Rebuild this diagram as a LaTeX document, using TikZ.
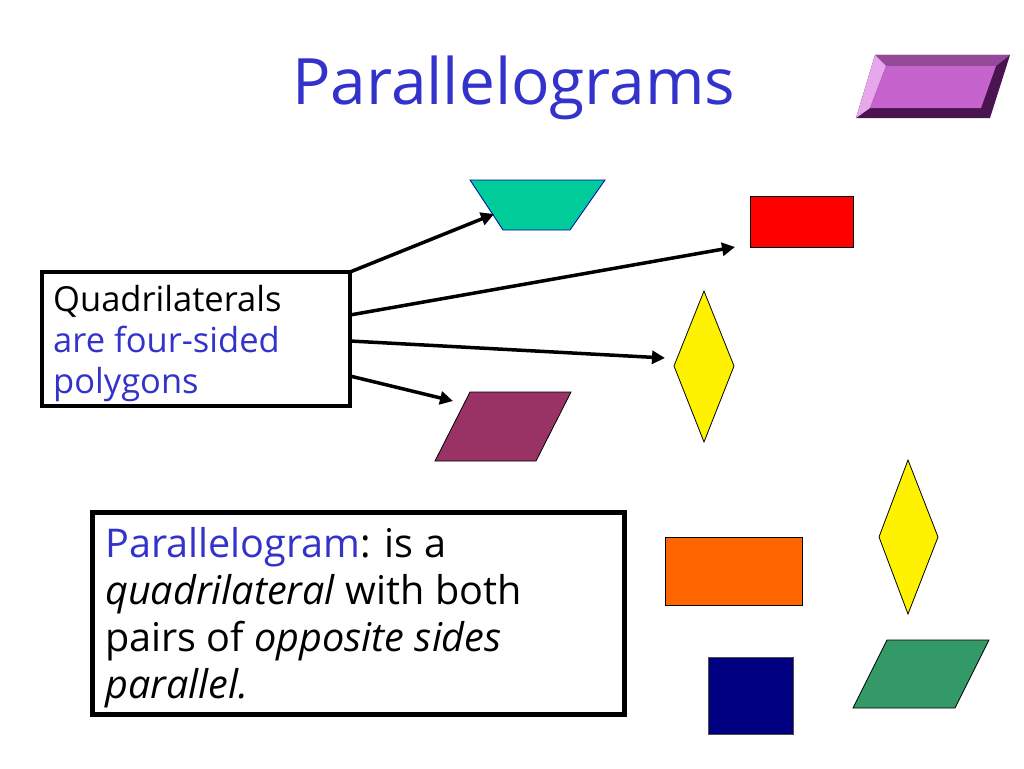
\documentclass[tikz,border=0pt]{standalone}
\usepackage{fontspec}
\setmainfont{Open Sans}
\usetikzlibrary{arrows.meta}
\definecolor{titleblue}{HTML}{3333CC}
\definecolor{teal1}{HTML}{00CC99}
\definecolor{maroon1}{HTML}{993366}
\definecolor{orange1}{HTML}{FF6600}
\definecolor{navy1}{HTML}{000080}
\definecolor{green1}{HTML}{339966}
\definecolor{purp}{HTML}{C663CC}
\definecolor{purpdark}{HTML}{4A1450}
\definecolor{purplight}{HTML}{E6A8EA}
\tikzset{
  shapeline/.style={draw=black, line width=0.8pt, line join=miter},
  conn/.style={line width=3.5pt, -{Triangle[length=13pt,width=13pt]}},
}
\begin{document}
\begin{tikzpicture}[x=1pt,y=-1pt]
\useasboundingbox (0,0) rectangle (1024,768);
% title
\node[anchor=base west, inner sep=0pt, text=titleblue, font=\fontsize{64}{70}\selectfont] (title) at (292,104) {Parallelograms};
% purple bevel parallelogram
\fill[purpdark] (856,118) -- (875,55) -- (1010,55) -- (990,118) -- cycle;
\fill[purp!75!black] (875,55) -- (1010,55) -- (996,66) -- (886,66) -- cycle;
\fill[purplight] (856,118) -- (875,55) -- (886,66) -- (870,108) -- cycle;
\fill[purp] (870,108) -- (886,66) -- (996,66) -- (981,108) -- cycle;
% teal trapezoid
\draw[fill=teal1, draw=blue!70!black, line width=0.8pt] (470,180) -- (605,180) -- (570,230) -- (503,230) -- cycle;
\coordinate (tealtip) at (494,214);
% red rectangle
\draw[shapeline, fill=red] (750,196) rectangle (853,247);
\coordinate (redtip) at (735,247);
% yellow diamond 1
\draw[shapeline, fill=yellow] (704,291) -- (734,366) -- (704,442) -- (674,366) -- cycle;
\coordinate (yeltip) at (665,358);
% maroon parallelogram
\draw[shapeline, fill=maroon1] (435,461) -- (470,392) -- (571,392) -- (536,461) -- cycle;
\coordinate (martip) at (453,401);
% quadrilaterals box
\draw[line width=4pt, fill=white] (42,272) rectangle (350,406);
\node[anchor=base west, inner sep=0pt, align=left, font=\fontsize{34.5}{41}\selectfont] (quad) at (53,393)
  {Quadrilaterals\\\textcolor{titleblue}{are four-sided}\\\textcolor{titleblue}{polygons}};
\coordinate (s1) at (350,272);
\coordinate (s2) at (350,315);
\coordinate (s3) at (350,341);
\coordinate (s4) at (350,376);
\draw[conn] (s1) -- (tealtip);
\draw[conn] (s2) -- (redtip);
\draw[conn] (s3) -- (yeltip);
\draw[conn] (s4) -- (martip);
% definition box
\draw[line width=5pt, fill=white] (92,512) rectangle (624,714);
\node[anchor=base west, inner sep=0pt, align=left, font=\fontsize{39.6}{47}\selectfont] (def) at (105,698)
  {\textcolor{titleblue}{Parallelogram}: is a\\\textit{quadrilateral} with both\\pairs of \textit{opposite sides}\\\textit{parallel.}};
% bottom right shapes
\draw[shapeline, fill=orange1] (665,537) rectangle (802,605);
\draw[shapeline, fill=yellow] (908,460) -- (938,537) -- (908,614) -- (879,537) -- cycle;
\draw[shapeline, fill=navy1, draw=gray!60!black] (708,657) rectangle (793,734);
\draw[shapeline, fill=green1] (853,708) -- (887,640) -- (989,640) -- (955,708) -- cycle;
\end{tikzpicture}
\end{document}
